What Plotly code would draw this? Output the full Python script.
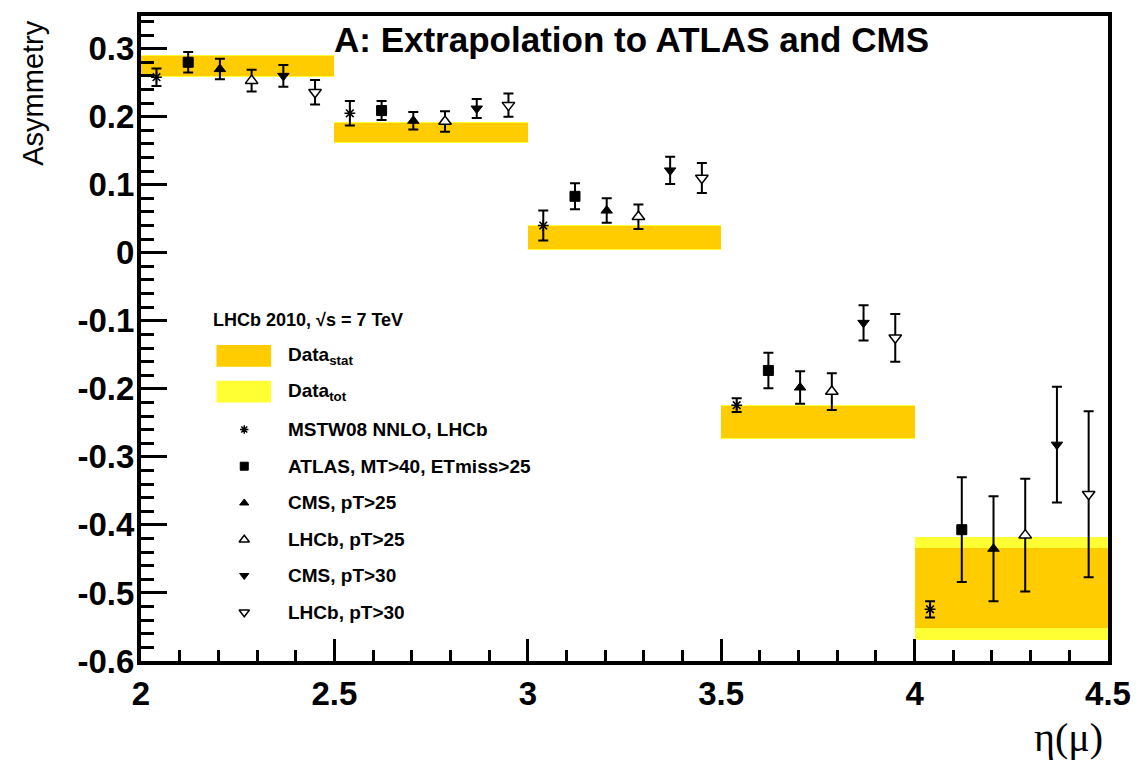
import plotly.graph_objects as go

# ---------------- data ----------------
bin_low = [2.0, 2.5, 3.0, 3.5, 4.0]
bin_width = 0.5

data_val = [0.274, 0.177, 0.023, -0.248, -0.493]
data_stat = [0.0145, 0.014, 0.017, 0.0235, 0.0585]
data_tot = [0.016, 0.0155, 0.0185, 0.025, 0.0755]

series_names = ["MSTW08 NNLO, LHCb", "ATLAS, MT>40, ETmiss>25", "CMS, pT>25",
                "LHCb, pT>25", "CMS, pT>30", "LHCb, pT>30"]
mstw = [0.258, 0.205, 0.040, -0.224, -0.524]
mstw_err = [0.013, 0.018, 0.022, 0.010, 0.012]
atlas = [0.280, 0.209, 0.083, -0.173, -0.407]
atlas_err = [0.015, 0.014, 0.019, 0.026, 0.077]
cms25 = [0.270, 0.194, 0.062, -0.198, -0.435]
cms25_err = [0.015, 0.013, 0.018, 0.024, 0.077]
lhcb25 = [0.253, 0.193, 0.053, -0.204, -0.415]
lhcb25_err = [0.016, 0.015, 0.018, 0.027, 0.083]
cms30 = [0.260, 0.212, 0.121, -0.103, -0.282]
cms30_err = [0.016, 0.014, 0.020, 0.026, 0.085]
lhcb30 = [0.236, 0.217, 0.110, -0.125, -0.355]
lhcb30_err = [0.018, 0.017, 0.022, 0.035, 0.122]

x_ticks = [2.0, 2.5, 3.0, 3.5, 4.0, 4.5]
x_ticktext = ["2", "2.5", "3", "3.5", "4", "4.5"]
y_ticks = [0.3, 0.2, 0.1, 0.0, -0.1, -0.2, -0.3, -0.4, -0.5, -0.6]
y_ticktext = ["0.3", "0.2", "0.1", "0", "-0.1", "-0.2", "-0.3", "-0.4", "-0.5", "-0.6"]

# ---------------- style ----------------
ORANGE = "#FFCC00"
YELLOW = "#FFFF33"
SANS = "Liberation Sans"
offsets = [0.04, 0.122, 0.204, 0.286, 0.368, 0.45]

styles = [
    dict(symbol="asterisk-open", size=9, color="black", line=dict(color="black", width=1.5)),
    dict(symbol="square", size=10, color="black", line=dict(color="black", width=1)),
    dict(symbol="triangle-up", size=10, color="black", line=dict(color="black", width=1)),
    dict(symbol="triangle-up", size=11, color="white", line=dict(color="black", width=1.5)),
    dict(symbol="triangle-down", size=10, color="black", line=dict(color="black", width=1)),
    dict(symbol="triangle-down", size=11, color="white", line=dict(color="black", width=1.5)),
]
all_vals = [mstw, atlas, cms25, lhcb25, cms30, lhcb30]
all_errs = [mstw_err, atlas_err, cms25_err, lhcb25_err, cms30_err, lhcb30_err]

centers = [b + bin_width / 2 for b in bin_low]

fig = go.Figure()

# total band (yellow) then stat band (orange)
fig.add_trace(go.Bar(
    x=centers, y=[2 * e for e in data_tot], base=[v - e for v, e in zip(data_val, data_tot)],
    width=bin_width, marker=dict(color=YELLOW, line=dict(width=0)), showlegend=False,
    hoverinfo="skip"))
fig.add_trace(go.Bar(
    x=centers, y=[2 * e for e in data_stat], base=[v - e for v, e in zip(data_val, data_stat)],
    width=bin_width, marker=dict(color=ORANGE, line=dict(width=0)), showlegend=False,
    hoverinfo="skip"))

for i, (vals, errs, st) in enumerate(zip(all_vals, all_errs, styles)):
    xs = [b + offsets[i] for b in bin_low]
    fig.add_trace(go.Scatter(
        x=xs, y=vals, mode="markers", marker=st, name=series_names[i],
        error_y=dict(type="data", array=errs, color="black", thickness=2, width=5),
        showlegend=False))

# ---------------- legend (drawn manually, paper coords) ----------------
PX0, PX1, PY0, PY1 = 141, 1115, 12, 661


def fx(px):
    return (px - PX0) / (PX1 - PX0)


def fy(py):
    return (PY1 - py) / (PY1 - PY0)


annotations = []
shapes = []
annotations.append(dict(text="<b>LHCb 2010, √s = 7 TeV</b>", x=fx(212), y=fy(318),
                        xref="paper", yref="paper", xanchor="left", yanchor="middle",
                        showarrow=False, font=dict(family=SANS, size=18, color="black")))
box_rows = [(354, ORANGE, "Data<sub>stat</sub>"), (390, YELLOW, "Data<sub>tot</sub>")]
for py, col, lab in box_rows:
    shapes.append(dict(type="rect", xref="paper", yref="paper", x0=fx(217), x1=fx(272),
                       y0=fy(py + 11), y1=fy(py - 11), fillcolor=col, line=dict(width=0)))
    annotations.append(dict(text="<b>" + lab + "</b>", x=fx(287), y=fy(py), xref="paper",
                            yref="paper", xanchor="left", yanchor="middle", showarrow=False,
                            font=dict(family=SANS, size=19, color="black")))
marker_rows = [428, 465, 502, 539, 575, 612]
for i, py in enumerate(marker_rows):
    st = dict(styles[i])
    st["size"] = st["size"] - 2
    fig.add_trace(go.Scatter(x=[fx(245)], y=[fy(py)], mode="markers", marker=st,
                             xaxis="x2", yaxis="y2", showlegend=False, hoverinfo="skip"))
    annotations.append(dict(text="<b>" + series_names[i] + "</b>", x=fx(287), y=fy(py),
                            xref="paper", yref="paper", xanchor="left", yanchor="middle",
                            showarrow=False, font=dict(family=SANS, size=19, color="black")))

# title and axis titles
annotations.append(dict(text="<b>A: Extrapolation to ATLAS and CMS</b>", x=fx(635), y=fy(36),
                        xref="paper", yref="paper", xanchor="center", yanchor="middle",
                        showarrow=False, font=dict(family=SANS, size=35, color="black")))
annotations.append(dict(text="Asymmetry", textangle=-90, x=fx(32), y=fy(14), xref="paper",
                        yref="paper", xanchor="center", yanchor="top", showarrow=False,
                        font=dict(family=SANS, size=29, color="black")))
annotations.append(dict(text="η(μ)", x=fx(1112), y=fy(738), xref="paper", yref="paper",
                        xanchor="right", yanchor="middle", showarrow=False,
                        font=dict(family="Liberation Serif", size=40, color="black")))

axis_common = dict(showgrid=False, zeroline=False, showline=True, linewidth=4,
                   linecolor="black", mirror=True, ticks="inside", tickwidth=3,
                   tickcolor="black",
                   tickfont=dict(family=SANS, size=33, color="black", weight="bold"))

fig.update_layout(
    width=1143, height=765, autosize=False,
    margin=dict(l=PX0, r=1143 - PX1, t=PY0, b=765 - PY1),
    paper_bgcolor="white", plot_bgcolor="white",
    barmode="overlay", bargap=0,
    xaxis=dict(range=[2, 4.5], tickmode="array", tickvals=x_ticks, ticktext=x_ticktext,
               ticklen=22, ticklabelstandoff=0,
               minor=dict(tickmode="linear", tick0=2, dtick=0.1, ticks="inside", ticklen=11,
                          tickwidth=3, tickcolor="black", showgrid=False),
               **axis_common),
    yaxis=dict(range=[-0.6, 0.348], tickmode="array", tickvals=y_ticks, ticktext=y_ticktext,
               ticklen=26, ticklabelstandoff=-4,
               minor=dict(tickmode="linear", tick0=-0.6, dtick=0.02, ticks="inside", ticklen=13,
                          tickwidth=3, tickcolor="black", showgrid=False),
               **axis_common),
    xaxis2=dict(overlaying="x", anchor="y2", range=[0, 1], visible=False, fixedrange=True),
    yaxis2=dict(overlaying="y", anchor="x2", range=[0, 1], visible=False, fixedrange=True),
    annotations=annotations, shapes=shapes, showlegend=False,
)

fig.write_html("out.html", config={"displayModeBar": False},
               post_script="document.body.style.margin='0';document.body.style.overflow='hidden';")
